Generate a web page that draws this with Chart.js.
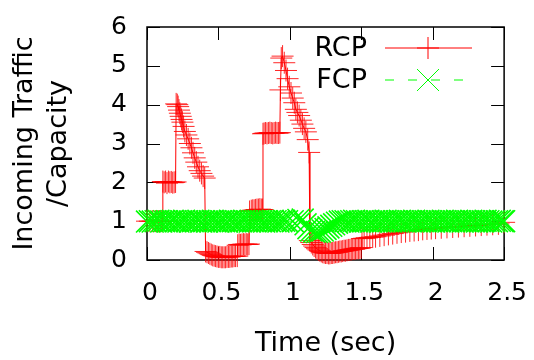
<!DOCTYPE html>
<html>
<head>
<meta charset="utf-8">
<script src="https://cdn.jsdelivr.net/npm/chart.js@4.4.1/dist/chart.umd.min.js"></script>
<style>
  html, body { margin: 0; padding: 0; background: #fff; }
  canvas { display: block; }
</style>
</head>
<body>
<canvas id="myChart" width="534" height="360"></canvas>
<script>
// RCP samples (time in sec, incoming traffic / capacity)
var rcpTime = [0, 0.02, 0.04, 0.06, 0.08, 0.1, 0.108,
    0.111, 0.12, 0.13, 0.14, 0.15, 0.16, 0.17, 0.18, 0.19, 0.2,
    0.204, 0.212, 0.218, 0.224, 0.23, 0.236, 0.242, 0.248, 0.256, 0.265, 0.276, 0.288, 0.3, 0.311, 0.322, 0.334, 0.345, 0.357, 0.369, 0.381, 0.393, 0.404,
    0.41, 0.42, 0.43, 0.44, 0.45, 0.46, 0.47, 0.48, 0.49, 0.5, 0.51, 0.52, 0.53, 0.54, 0.55, 0.56, 0.57, 0.58, 0.59, 0.6, 0.61, 0.62, 0.632,
    0.635, 0.645, 0.655, 0.665, 0.675, 0.685, 0.695, 0.705, 0.714,
    0.718, 0.73, 0.74, 0.75, 0.76, 0.77, 0.78, 0.79, 0.8, 0.808,
    0.812, 0.82, 0.83, 0.84, 0.85, 0.86, 0.87, 0.88, 0.89, 0.9, 0.91, 0.92, 0.93,
    0.934, 0.94, 0.949, 0.961, 0.973, 0.984, 0.996, 1.008, 1.02, 1.031, 1.042, 1.053, 1.065, 1.077, 1.088, 1.1, 1.112, 1.125, 1.135,
    1.14, 1.15, 1.16, 1.17, 1.18, 1.19, 1.2, 1.21, 1.22, 1.23, 1.24, 1.25, 1.26, 1.27, 1.28, 1.29, 1.3, 1.31, 1.32, 1.33, 1.34, 1.35,
    1.36, 1.37, 1.38, 1.39, 1.4, 1.41, 1.42, 1.43, 1.44, 1.45, 1.46, 1.47, 1.48, 1.49, 1.5,
    1.505, 1.52, 1.54, 1.56, 1.58, 1.6, 1.63, 1.66, 1.69, 1.72, 1.75, 1.78, 1.81, 1.84, 1.87, 1.9, 1.93, 1.96, 1.99,
    2.02, 2.06, 2.1, 2.14, 2.18, 2.22, 2.26, 2.3, 2.34, 2.38, 2.42, 2.46, 2.5];
var rcpValue = [1.0, 1.0, 1.0, 1.0, 1.0, 1.0, 1.0,
    2.02, 2.0, 2.02, 1.98, 2.02, 2.0, 2.01, 1.99, 2.0, 2.01,
    4.02, 4.0, 3.95, 3.86, 3.78, 3.7, 3.62, 3.55, 3.44, 3.31, 3.22, 3.12, 3.0, 2.89, 2.76, 2.63, 2.52, 2.4, 2.3, 2.23, 2.16, 2.11,
    0.22, 0.2, 0.18, 0.16, 0.14, 0.12, 0.11, 0.1, 0.09, 0.08, 0.08, 0.07, 0.07, 0.07, 0.07, 0.08, 0.08, 0.08, 0.09, 0.09, 0.1, 0.1, 0.1,
    0.38, 0.4, 0.39, 0.4, 0.41, 0.4, 0.41, 0.4, 0.41,
    1.25, 1.27, 1.28, 1.28, 1.29, 1.3, 1.3, 1.31, 1.3, 1.3,
    3.25, 3.26, 3.27, 3.26, 3.27, 3.28, 3.27, 3.26, 3.27, 3.28, 3.27, 3.27, 3.28,
    4.38, 5.2, 5.25, 5.08, 4.88, 4.67, 4.46, 4.3, 4.17, 4.05, 3.88, 3.8, 3.72, 3.6, 3.5, 3.39, 3.3, 3.1, 2.77,
    0.5, 0.45, 0.4, 0.36, 0.32, 0.29, 0.26, 0.24, 0.22, 0.2, 0.19, 0.18, 0.18, 0.17, 0.17, 0.18, 0.18, 0.19, 0.2, 0.2, 0.21, 0.22,
    0.22, 0.23, 0.24, 0.24, 0.25, 0.26, 0.26, 0.27, 0.28, 0.28, 0.29, 0.3, 0.3, 0.31, 0.32,
    0.55, 0.56, 0.57, 0.58, 0.59, 0.6, 0.62, 0.64, 0.66, 0.68, 0.7, 0.72, 0.73, 0.75, 0.76, 0.77, 0.79, 0.8, 0.81,
    0.82, 0.83, 0.84, 0.85, 0.86, 0.87, 0.88, 0.89, 0.9, 0.91, 0.92, 0.93, 0.97];

// FCP samples
var fcpTime = [0, 0.02, 0.04, 0.06, 0.08, 0.1, 0.12, 0.14, 0.16, 0.18, 0.2, 0.22, 0.24, 0.26, 0.28, 0.3, 0.32, 0.34, 0.36, 0.38,
    0.4, 0.42, 0.44, 0.46, 0.48, 0.5, 0.52, 0.54, 0.56, 0.58, 0.6, 0.62, 0.64, 0.66, 0.68, 0.7, 0.72, 0.74, 0.76, 0.78,
    0.8, 0.82, 0.84, 0.86, 0.88, 0.9, 0.92, 0.94, 0.96, 0.98,
    1.02, 1.06, 1.09, 1.11, 1.13, 1.15, 1.17, 1.19, 1.21, 1.23, 1.25, 1.27, 1.29, 1.31, 1.33, 1.35, 1.37,
    1.39, 1.41, 1.43, 1.45, 1.47, 1.49, 1.51, 1.53, 1.55, 1.57, 1.59, 1.61, 1.63, 1.65, 1.67, 1.69, 1.71, 1.73, 1.75, 1.77, 1.79,
    1.81, 1.83, 1.85, 1.87, 1.89, 1.91, 1.93, 1.95, 1.97, 1.99, 2.01, 2.03, 2.05, 2.07, 2.09, 2.11, 2.13, 2.15, 2.17, 2.19,
    2.21, 2.23, 2.25, 2.27, 2.29, 2.31, 2.33, 2.35, 2.37, 2.39, 2.41, 2.43, 2.45, 2.47, 2.49, 2.5];
var fcpValue = [0.99, 1.0, 0.99, 1.0, 1.01, 0.99, 1.0, 1.0, 0.99, 1.01, 1.0, 0.99, 1.0, 1.01, 1.0, 0.99, 1.0, 1.0, 1.01, 0.99,
    1.0, 0.99, 1.0, 1.01, 1.0, 0.99, 1.0, 1.0, 0.99, 1.01, 1.0, 1.0, 0.99, 1.0, 1.01, 1.0, 0.99, 1.0, 1.0, 1.01,
    1.0, 0.99, 1.0, 1.0, 1.01, 1.0, 0.99, 1.0, 1.01, 1.0,
    1.0, 1.03, 1.04, 0.92, 0.82, 0.76, 0.73, 0.72, 0.73, 0.76, 0.8, 0.84, 0.88, 0.92, 0.96, 0.99, 1.0,
    1.0, 0.99, 1.0, 1.01, 1.0, 0.99, 1.0, 1.0, 1.01, 0.99, 1.0, 1.0, 0.99, 1.0, 1.01, 1.0, 0.99, 1.0, 1.0, 1.01, 1.0,
    0.99, 1.0, 1.0, 1.01, 1.0, 0.99, 1.0, 1.0, 1.01, 1.0, 0.99, 1.0, 1.0, 1.01, 1.0, 0.99, 1.0, 1.0, 1.01, 1.0,
    0.99, 1.0, 1.0, 1.01, 1.0, 0.99, 1.0, 1.0, 1.01, 1.0, 0.99, 1.0, 1.0, 1.01, 1.0, 1.0];

var xTicks = [0, 0.5, 1, 1.5, 2, 2.5];
var yTicks = [0, 1, 2, 3, 4, 5, 6];

var fontFamily = "'DejaVu Sans', 'Liberation Sans', sans-serif";
var red = 'rgb(255, 0, 0)';
var green = 'rgb(0, 255, 0)';

function toPoints(xs, ys) {
    return xs.map(function(x, i) { return { x: x, y: ys[i] }; });
}

// gnuplot-like border with inward ticks on all four sides
var framePlugin = {
    id: 'frame',
    beforeDatasetsDraw: function(chart) {
        var ctx = chart.ctx, a = chart.chartArea;
        var xs = chart.scales.x, ys = chart.scales.y;
        ctx.save();
        ctx.strokeStyle = '#000';
        ctx.lineWidth = 1;
        ctx.beginPath();
        xTicks.forEach(function(v) {
            var px = Math.round(xs.getPixelForValue(v)) + 0.5;
            ctx.moveTo(px, a.bottom); ctx.lineTo(px, a.bottom - 13);
            ctx.moveTo(px, a.top); ctx.lineTo(px, a.top + 13);
        });
        yTicks.forEach(function(v) {
            var py = Math.round(ys.getPixelForValue(v)) + 0.5;
            ctx.moveTo(a.left, py); ctx.lineTo(a.left + 13, py);
            ctx.moveTo(a.right, py); ctx.lineTo(a.right - 13, py);
        });
        ctx.stroke();
        ctx.lineWidth = 1.5;
        ctx.strokeRect(a.left, a.top, a.right - a.left, a.bottom - a.top);
        ctx.restore();
    },
    afterDraw: function(chart) {
        // key in the top right, text right-aligned before the sample
        var ctx = chart.ctx;
        var items = [
            { text: 'RCP', color: red, dash: [], mark: 'plus', y: 48 },
            { text: 'FCP', color: green, dash: [9, 14], mark: 'x', y: 80 }
        ];
        ctx.save();
        ctx.font = '27px ' + fontFamily;
        ctx.textAlign = 'right';
        ctx.textBaseline = 'middle';
        items.forEach(function(it) {
            ctx.fillStyle = '#000';
            ctx.fillText(it.text, 367, it.y + 1);
            ctx.strokeStyle = it.color;
            ctx.lineWidth = 1;
            ctx.setLineDash(it.dash);
            ctx.beginPath();
            ctx.moveTo(385, it.y); ctx.lineTo(472, it.y);
            ctx.stroke();
            ctx.setLineDash([]);
            ctx.beginPath();
            if (it.mark === 'plus') {
                ctx.moveTo(417, it.y); ctx.lineTo(439, it.y);
                ctx.moveTo(428, it.y - 11); ctx.lineTo(428, it.y + 11);
            } else {
                ctx.moveTo(417, it.y - 11); ctx.lineTo(439, it.y + 11);
                ctx.moveTo(417, it.y + 11); ctx.lineTo(439, it.y - 11);
            }
            ctx.stroke();
        });
        ctx.restore();
    }
};

var ctx = document.getElementById('myChart').getContext('2d');

var myChart = new Chart(ctx, {
    type: 'scatter',
    data: {
        datasets: [{
            label: 'FCP',
            data: toPoints(fcpTime, fcpValue),
            showLine: true,
            borderColor: green,
            borderWidth: 1,
            borderDash: [9, 14],
            pointStyle: 'crossRot',
            pointRadius: 15.5,
            pointBorderColor: green,
            pointBorderWidth: 1.6,
            clip: false,
            order: 0
        }, {
            label: 'RCP',
            data: toPoints(rcpTime, rcpValue),
            showLine: true,
            borderColor: red,
            borderWidth: 1,
            pointStyle: 'cross',
            pointRadius: 11,
            pointBorderColor: 'rgba(255, 0, 0, 0.85)',
            pointBorderWidth: 1,
            clip: false,
            order: 1
        }]
    },
    options: {
        responsive: false,
        animation: false,
        events: [],
        layout: { padding: { top: 18, right: 28, left: 0, bottom: 0 } },
        plugins: {
            legend: { display: false },
            tooltip: { enabled: false }
        },
        scales: {
            x: {
                type: 'linear',
                min: 0,
                max: 2.5,
                grid: { display: false },
                border: { display: false },
                afterBuildTicks: function(scale) {
                    scale.ticks = xTicks.map(function(v) { return { value: v }; });
                },
                ticks: {
                    color: '#000',
                    padding: 10,
                    labelOffset: 3,
                    maxRotation: 0,
                    font: { family: fontFamily, size: 25 },
                    callback: function(value) { return String(value); }
                },
                title: {
                    display: true,
                    text: 'Time (sec)',
                    color: '#000',
                    font: { family: fontFamily, size: 27 },
                    padding: { top: 0, bottom: 0 }
                },
                afterFit: function(scale) { scale.height = 100; }
            },
            y: {
                min: 0,
                max: 6,
                grid: { display: false },
                border: { display: false },
                afterBuildTicks: function(scale) {
                    scale.ticks = yTicks.map(function(v) { return { value: v }; });
                },
                ticks: {
                    color: '#000',
                    padding: 12,
                    font: { family: fontFamily, size: 25 },
                    callback: function(value) { return String(value); }
                },
                title: {
                    display: true,
                    text: ['Incoming Traffic', '/Capacity'],
                    color: '#000',
                    font: { family: fontFamily, size: 27, lineHeight: 1.25 },
                    padding: { top: 8, bottom: 0 }
                },
                afterFit: function(scale) { scale.width = 147; }
            }
        }
    },
    plugins: [framePlugin]
});
</script>
</body>
</html>
